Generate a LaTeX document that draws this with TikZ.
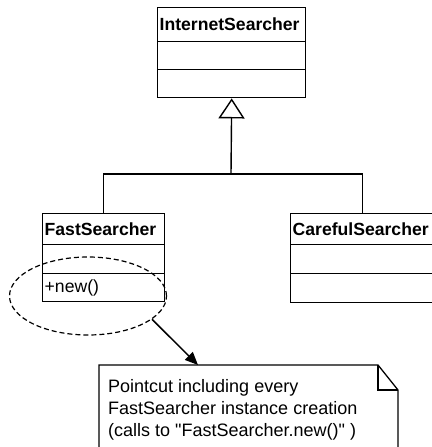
\documentclass[tikz,border=0pt]{standalone}
\usepackage{fontspec}
\setmainfont{Liberation Sans}
\newfontfamily\plainfont{Liberation Sans}
\usetikzlibrary{shapes,arrows.meta}

\tikzset{
  classname/.style={draw, line width=1.4pt, anchor=north west, inner xsep=2pt, inner ysep=0pt,
    align=left, minimum height=#1, font=\bfseries\fontsize{17.6}{20}\selectfont},
  compart/.style={draw, line width=1.4pt, anchor=north west, inner xsep=2pt, inner ysep=0pt,
    align=left, minimum height=#1, font=\fontsize{17.6}{20}\selectfont},
}

\begin{document}
\begin{tikzpicture}[x=1pt, y=-1pt]
\useasboundingbox (0,0) rectangle (431,447);
% superclass
\node[classname=34pt, text width=144pt] (internet) at (157,7) {InternetSearcher};
\node[compart=28pt, text width=144pt] (internetattr) at (157,41) {};
\node[compart=28pt, text width=144pt] (internetops) at (157,69) {};
% subclasses
\node[classname=31pt, text width=118pt] (fast) at (42,213) {FastSearcher};
\node[compart=29pt, text width=118pt] (fastattr) at (42,244) {};
\node[compart=28pt, text width=118pt] (fastops) at (42,273) {+new()};
\node[classname=31pt, text width=140pt] (careful) at (290,213) {CarefulSearcher};
\node[compart=29pt, text width=140pt] (carefulattr) at (290,244) {};
\node[compart=29pt, text width=140pt] (carefulops) at (290,273) {};
% generalization
\coordinate (junction) at (231,174);
\draw[line width=1.4pt] (fast.north) |- (junction) -| (careful.north);
\draw[line width=1.4pt, -{Triangle[open, width=26pt, length=20pt]}] (junction) -- (internetops.south);
% pointcut
\node[ellipse, draw, line width=1.2pt, dash pattern=on 5pt off 3pt,
  minimum width=157pt, minimum height=78pt] (pointcut) at (88,296) {};
\coordinate (notetop) at (198,365);
\draw[line width=1.5pt, -{Triangle[width=11pt, length=13pt]}] (pointcut.-20) -- (notetop);
% note
\draw[line width=1.3pt, line join=miter] (99,447) -- (99,365) -- (378,365) -- (398,390) -- (398,447);
\draw[line width=1.3pt] (378,365) -- (378,390) -- (398,390);
\node[anchor=north west, inner sep=0pt, align=left, font=\plainfont\fontsize{18}{22}\selectfont] (notetext) at (108,379)
  {Pointcut including every\\FastSearcher instance creation\\(calls to "FastSearcher.new()" )};
\end{tikzpicture}
\end{document}
